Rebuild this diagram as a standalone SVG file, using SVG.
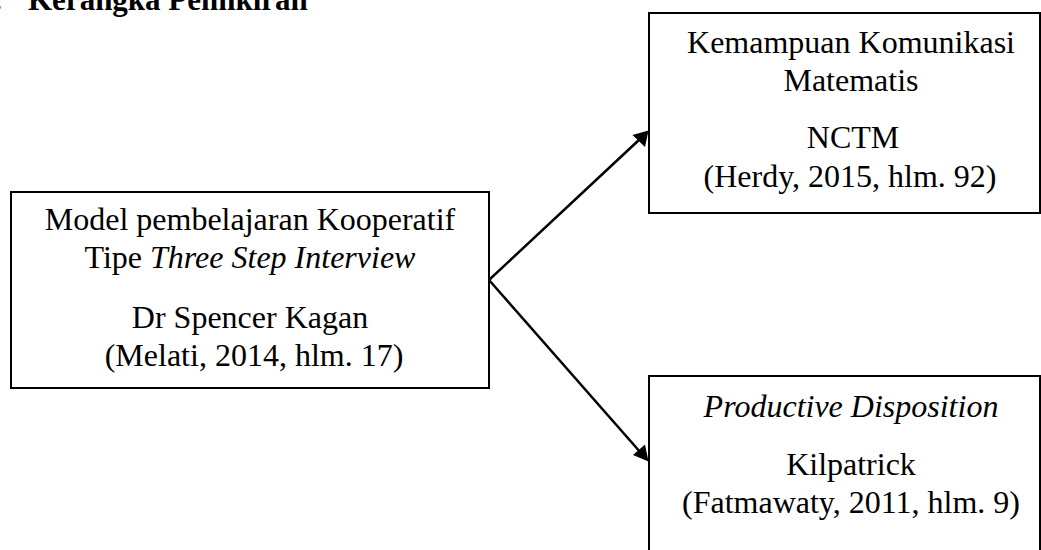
<svg xmlns="http://www.w3.org/2000/svg" width="1041" height="550" viewBox="0 0 1041 550">
<style>
.t{font-family:"Liberation Serif","Times New Roman",serif;font-size:32px;fill:#000;text-anchor:middle}
.i{font-style:italic}
.h{font-family:"Liberation Serif","Times New Roman",serif;font-size:31px;font-weight:bold;fill:#000}
.box{fill:#fff;stroke:#000;stroke-width:2}
.edge{stroke:#000;stroke-width:2.5;fill:none}
.head{fill:#000}
</style>
<rect width="1041" height="550" fill="#fff"/>
<g id="title">
<text class="h" x="-6" y="10">.</text>
<text class="h" x="28" y="10">Kerangka Pemikiran</text>
</g>
<g id="connectors">
<line class="edge" x1="489" y1="280" x2="640" y2="139"/>
<path class="head" d="M648.5,130.5 L632.5,135 L645,147 z"/>
<line class="edge" x1="489" y1="280" x2="641" y2="453"/>
<path class="head" d="M648.5,461.5 L633,455 L645,444.5 z"/>
</g>
<g id="node-model">
<rect class="box" x="11" y="192" width="478" height="196"/>
<text class="t" x="250" y="230">Model pembelajaran Kooperatif</text>
<text class="t" x="250" y="268">Tipe <tspan class="i">Three Step Interview</tspan></text>
<text class="t" x="250" y="328">Dr Spencer Kagan</text>
<text class="t" x="254" y="366">(Melati, 2014, hlm. 17)</text>
</g>
<g id="node-komunikasi">
<rect class="box" x="649" y="13" width="391" height="200"/>
<text class="t" x="851" y="53">Kemampuan Komunikasi</text>
<text class="t" x="851" y="91">Matematis</text>
<text class="t" x="853" y="148">NCTM</text>
<text class="t" x="850" y="187">(Herdy, 2015, hlm. 92)</text>
</g>
<g id="node-disposition">
<rect class="box" x="649" y="376" width="391" height="190"/>
<text class="t i" x="851" y="417">Productive Disposition</text>
<text class="t" x="851" y="475">Kilpatrick</text>
<text class="t" x="851" y="513">(Fatmawaty, 2011, hlm. 9)</text>
</g>
</svg>
